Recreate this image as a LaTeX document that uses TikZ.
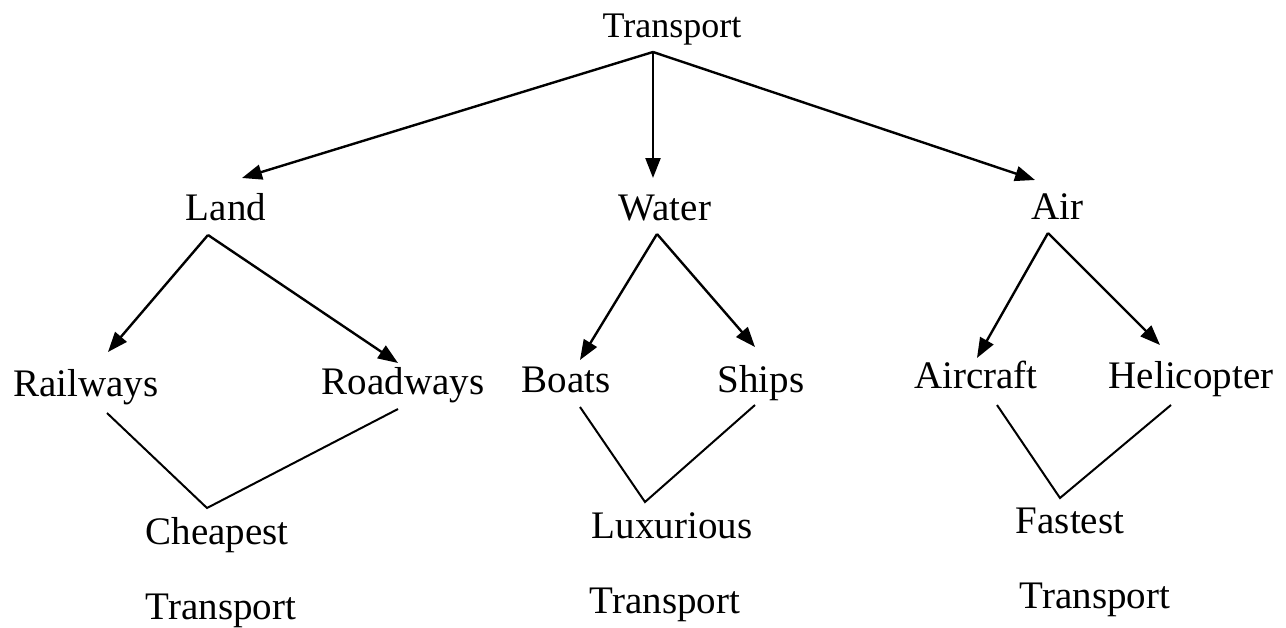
\documentclass[tikz,border=0pt]{standalone}
\usepackage{fontspec}
\setmainfont{Liberation Serif}
\usetikzlibrary{arrows.meta}
\begin{document}
\begin{tikzpicture}[x=1pt,y=-1pt,
  lbl/.style={inner sep=0pt, anchor=base, font=\fontsize{39}{46}\selectfont},
  arr/.style={line width=2.4pt, -{Triangle[length=20pt,width=15pt]}},
  vline/.style={line width=2pt}]
\useasboundingbox (0,0) rectangle (1286,627);
\fill[white] (0,0) rectangle (1286,627);
% labels
\node[lbl, font=\fontsize{36}{44}\selectfont] (transport) at (672,37) {Transport};
\node[lbl] (land) at (226,220) {Land};
\node[lbl] (water) at (665,220) {Water};
\node[lbl] (air) at (1057,219) {Air};
\node[lbl] (railways) at (86,396) {Railways};
\node[lbl] (roadways) at (403,394) {Roadways};
\node[lbl] (boats) at (566,392) {Boats};
\node[lbl] (ships) at (761,392) {Ships};
\node[lbl] (aircraft) at (976,388) {Aircraft};
\node[lbl] (helicopter) at (1191,388) {Helicopter};
\node[lbl] (cheapest) at (217,544) {Cheapest};
\node[lbl] (luxurious) at (672,538) {Luxurious};
\node[lbl] (fastest) at (1070,533) {Fastest};
\node[lbl] (tcheap) at (221,619) {Transport};
\node[lbl] (tlux) at (665,613) {Transport};
\node[lbl] (tfast) at (1095,608) {Transport};
% connector ends
\coordinate (topOut) at (653,52);
\coordinate (landIn) at (242,178);
\coordinate (waterIn) at (653,178);
\coordinate (airIn) at (1035,180);
\coordinate (landOut) at (208,235);
\coordinate (waterOut) at (657,234);
\coordinate (airOut) at (1048,233);
\coordinate (railIn) at (108,352);
\coordinate (roadIn) at (398,363);
\coordinate (boatIn) at (580,360);
\coordinate (shipIn) at (755,347);
\coordinate (acIn) at (977,358);
\coordinate (heliIn) at (1160,345);
\coordinate (railOut) at (107,413);
\coordinate (cheapIn) at (207,508);
\coordinate (roadOut) at (398,409);
\coordinate (boatOut) at (580,407);
\coordinate (luxIn) at (645,502);
\coordinate (shipOut) at (755,405);
\coordinate (acOut) at (997,405);
\coordinate (fastIn) at (1060,498);
\coordinate (heliOut) at (1171,405);
% arrows
\draw[arr] (topOut) -- (landIn);
\draw[arr] (topOut) -- (waterIn);
\draw[arr] (topOut) -- (airIn);
\draw[arr] (landOut) -- (railIn);
\draw[arr] (landOut) -- (roadIn);
\draw[arr] (waterOut) -- (boatIn);
\draw[arr] (waterOut) -- (shipIn);
\draw[arr] (airOut) -- (acIn);
\draw[arr] (airOut) -- (heliIn);
% joining lines
\draw[vline] (railOut) -- (cheapIn) -- (roadOut);
\draw[vline] (boatOut) -- (luxIn) -- (shipOut);
\draw[vline] (acOut) -- (fastIn) -- (heliOut);
\end{tikzpicture}
\end{document}
